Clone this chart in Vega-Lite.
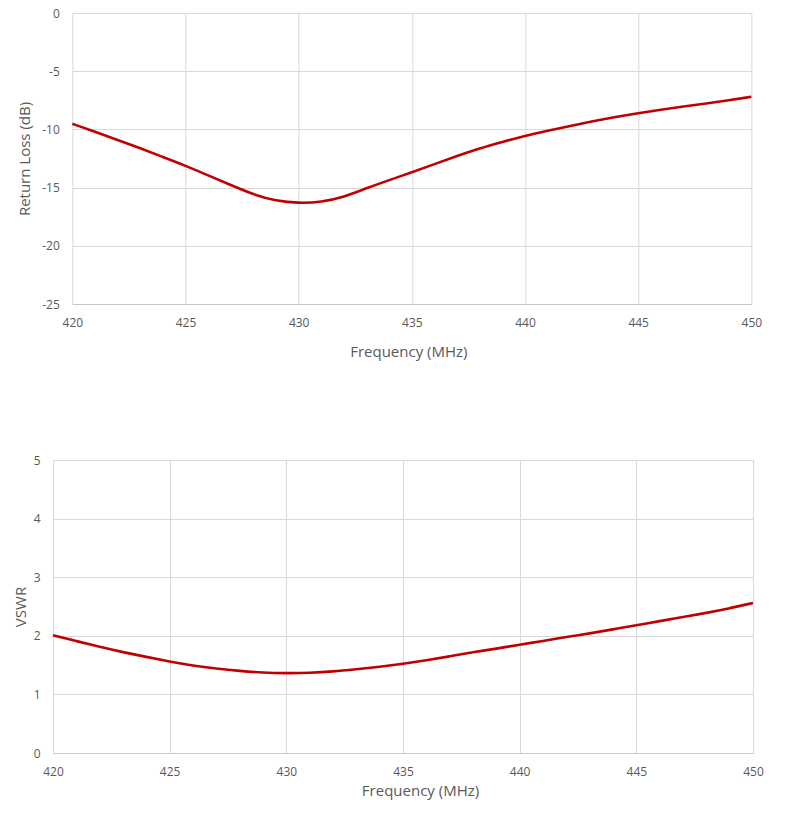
{
  "$schema": "https://vega.github.io/schema/vega-lite/v6.json",
  "background": "white",
  "padding": {"top": 7, "left": 13, "right": 0, "bottom": 5},
  "center": true,
  "spacing": 95,
  "data": {
    "values": [
      {"freq": 420, "rl": -9.52, "vswr": 2.01},
      {"freq": 421, "rl": -10.2, "vswr": 1.91},
      {"freq": 422, "rl": -10.9, "vswr": 1.81},
      {"freq": 423, "rl": -11.62, "vswr": 1.72},
      {"freq": 424, "rl": -12.37, "vswr": 1.64},
      {"freq": 425, "rl": -13.12, "vswr": 1.56},
      {"freq": 426, "rl": -13.95, "vswr": 1.49},
      {"freq": 427, "rl": -14.78, "vswr": 1.44},
      {"freq": 428, "rl": -15.6, "vswr": 1.4},
      {"freq": 429, "rl": -16.15, "vswr": 1.37},
      {"freq": 430, "rl": -16.34, "vswr": 1.36},
      {"freq": 431, "rl": -16.25, "vswr": 1.365},
      {"freq": 432, "rl": -15.82, "vswr": 1.39},
      {"freq": 433, "rl": -15.05, "vswr": 1.43},
      {"freq": 434, "rl": -14.35, "vswr": 1.47},
      {"freq": 435, "rl": -13.69, "vswr": 1.52},
      {"freq": 436, "rl": -12.98, "vswr": 1.58},
      {"freq": 437, "rl": -12.28, "vswr": 1.65},
      {"freq": 438, "rl": -11.63, "vswr": 1.72},
      {"freq": 439, "rl": -11.08, "vswr": 1.78},
      {"freq": 440, "rl": -10.55, "vswr": 1.85},
      {"freq": 441, "rl": -10.1, "vswr": 1.91},
      {"freq": 442, "rl": -9.7, "vswr": 1.98},
      {"freq": 443, "rl": -9.3, "vswr": 2.04},
      {"freq": 444, "rl": -8.93, "vswr": 2.11},
      {"freq": 445, "rl": -8.6, "vswr": 2.18},
      {"freq": 446, "rl": -8.3, "vswr": 2.25},
      {"freq": 447, "rl": -8.04, "vswr": 2.32},
      {"freq": 448, "rl": -7.78, "vswr": 2.39},
      {"freq": 449, "rl": -7.5, "vswr": 2.47},
      {"freq": 450, "rl": -7.2, "vswr": 2.56}
    ]
  },
  "vconcat": [
    {
      "width": 679,
      "height": 291,
      "mark": {"type": "line", "color": "#c00000", "strokeWidth": 2.6, "interpolate": "basis"},
      "encoding": {
        "x": {
          "field": "freq",
          "type": "quantitative",
          "scale": {"domain": [420, 450], "nice": false, "zero": false},
          "axis": {"values": [420, 425, 430, 435, 440, 445, 450], "title": "Frequency (MHz)", "titlePadding": 16, "titleX": 336}
        },
        "y": {
          "field": "rl",
          "type": "quantitative",
          "scale": {"domain": [-25, 0], "nice": false},
          "axis": {"values": [-25, -20, -15, -10, -5, 0], "labelExpr": "'' + datum.value", "title": "Return Loss (dB)", "titlePadding": 9, "domain": false}
        }
      }
    },
    {
      "spacing": 0,
      "hconcat": [
        {
          "width": 700,
          "height": 293,
          "mark": {"type": "line", "color": "#c00000", "strokeWidth": 2.6, "interpolate": "basis"},
          "encoding": {
            "x": {
              "field": "freq",
              "type": "quantitative",
              "scale": {"domain": [420, 450], "nice": false, "zero": false},
              "axis": {"values": [420, 425, 430, 435, 440, 445, 450], "title": "Frequency (MHz)", "titlePadding": 6, "titleX": 367}
            },
            "y": {
              "field": "vswr",
              "type": "quantitative",
              "scale": {"domain": [0, 5], "nice": false},
              "axis": {"values": [0, 1, 2, 3, 4, 5], "title": "VSWR", "titlePadding": 5, "domain": false}
            }
          }
        },
        {
          "width": 17,
          "height": 293,
          "data": {"values": []},
          "mark": {"type": "point", "opacity": 0},
          "encoding": {}
        }
      ]
    }
  ],
  "config": {
    "font": "Open Sans",
    "view": {"stroke": null},
    "axis": {
      "grid": true,
      "gridColor": "#d9d9d9",
      "gridWidth": 1,
      "ticks": false,
      "domainColor": "#c8c8c8",
      "domainWidth": 1,
      "labelColor": "#595959",
      "labelFontSize": 12,
      "labelPadding": 13,
      "labelFlush": false,
      "titleColor": "#595959",
      "titleFontSize": 15,
      "titleFontWeight": "normal"
    }
  }
}
